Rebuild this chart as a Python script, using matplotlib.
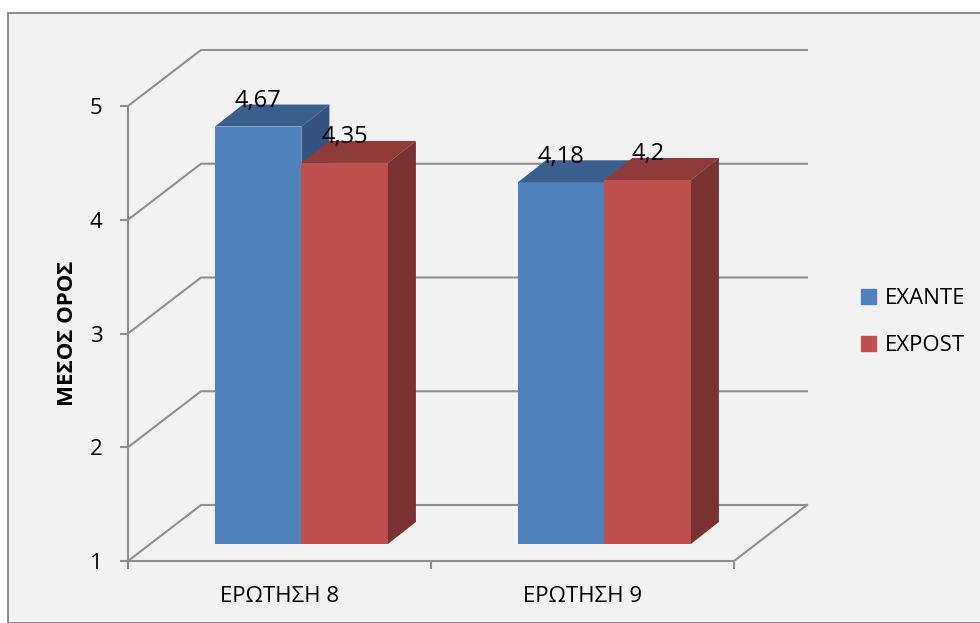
import matplotlib
matplotlib.use('Agg')
import matplotlib.pyplot as plt
from matplotlib.patches import Polygon, Rectangle

plt.rcParams['font.family'] = ['Open Sans', 'DejaVu Sans']

categories = ['ΕΡΩΤΗΣΗ 8', 'ΕΡΩΤΗΣΗ 9']
exante = [4.67, 4.18]
expost = [4.35, 4.2]
exante_labels = ['4,67', '4,18']
expost_labels = ['4,35', '4,2']
yticks = [1, 2, 3, 4, 5]

W, H = 980, 623
fig = plt.figure(figsize=(W / 100, H / 100), dpi=100, facecolor='white')

# chart area with its grey frame
fig.add_artist(Rectangle((8 / W, 0), 1, 1 - 13 / H, transform=fig.transFigure, zorder=-1,
                         facecolor='#f2f2f2', edgecolor='#8c8c8c', linewidth=1.4))

# axes = the front plane of the fake 3d box
left, right, top, bottom = 128, 734, 106, 561
ax = fig.add_axes([left / W, 1 - bottom / H, (right - left) / W, (bottom - top) / H])
ax.set_xlim(0, 2)
ax.set_ylim(1, 5)
ax.patch.set_alpha(0)

px_x = (right - left) / 2
px_y = (bottom - top) / 4
wall_dx, wall_dy = 73 / px_x, 56 / px_y
gap_dx, gap_dy = 21 / px_x, 17 / px_y
deep_dx, deep_dy = 28 / px_x, 22 / px_y
bar_w = 86.5 / px_x
bar_start = 0.2175
label_up = 25.5 / px_y

grid = '#8f8f8f'
for y in yticks:
    ax.plot([0, wall_dx, 2 + wall_dx], [y, y + wall_dy, y + wall_dy], color=grid,
            lw=1.5, clip_on=False, zorder=1)
ax.plot([2, 2 + wall_dx], [1, 1 + wall_dy], color=grid, lw=1.5, clip_on=False, zorder=1)


def draw_bar(x, val, face, topc, sidec):
    x0 = x + gap_dx
    y0 = 1 + gap_dy
    y1 = val + gap_dy
    x1 = x0 + bar_w
    ax.bar(x0, val - 1, width=bar_w, bottom=y0, align='edge', color=face, zorder=3, clip_on=False)
    ax.add_patch(Polygon([(x0, y1), (x1, y1), (x1 + deep_dx, y1 + deep_dy), (x0 + deep_dx, y1 + deep_dy)],
                         facecolor=topc, edgecolor='none', zorder=3, clip_on=False))
    ax.add_patch(Polygon([(x1, y0), (x1, y1), (x1 + deep_dx, y1 + deep_dy), (x1 + deep_dx, y0 + deep_dy)],
                         facecolor=sidec, edgecolor='none', zorder=3, clip_on=False))


fs = 16
for i in range(len(categories)):
    # side of the first bar has to be behind the second one
    draw_bar(i + bar_start, exante[i], '#4f81bd', '#3b5f8d', '#335380')
    draw_bar(i + bar_start + bar_w, expost[i], '#c0504d', '#8f3b39', '#7a3230')
    ax.text(i + bar_start + gap_dx + bar_w / 2, exante[i] + gap_dy + label_up,
            exante_labels[i], ha='center', va='center', fontsize=17, zorder=5)
    ax.text(i + bar_start + gap_dx + 1.5 * bar_w, expost[i] + gap_dy + label_up,
            expost_labels[i], ha='center', va='center', fontsize=17, zorder=5)

for s in ['top', 'right']:
    ax.spines[s].set_visible(False)
for s in ['left', 'bottom']:
    ax.spines[s].set_color(grid)
    ax.spines[s].set_linewidth(1.5)

ax.set_yticks(yticks)
ax.set_xticks([0, 1, 2])
ax.set_xticklabels([])
ax.set_xticks([0.5, 1.5], categories, minor=True)
ax.tick_params(axis='both', which='major', color=grid, width=1.5, length=5.5, labelsize=fs, pad=13)
ax.tick_params(axis='x', which='minor', length=0, labelsize=fs, pad=18)
ax.set_ylabel('ΜΕΣΟΣ ΟΡΟΣ', fontweight='bold', fontsize=16, labelpad=8)

handles = [Rectangle((0, 0), 1, 1, color='#4f81bd'), Rectangle((0, 0), 1, 1, color='#c0504d')]
fig.legend(handles, ['EXANTE', 'EXPOST'], loc='center left', bbox_to_anchor=(861 / W, 1 - 322 / H),
           frameon=False, fontsize=fs, handlelength=0.675, handleheight=0.675, handletextpad=0.4,
           labelspacing=1.17, borderpad=0, borderaxespad=0)

fig.savefig('out.png', dpi=100)
